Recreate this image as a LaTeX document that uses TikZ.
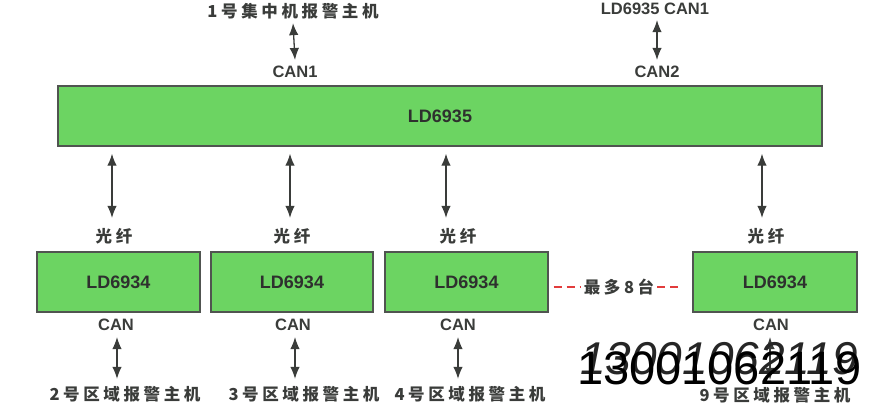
\documentclass[tikz,border=0pt]{standalone}
\usepackage{fontspec}
\setmainfont{Liberation Sans}
\newfontfamily\cjk[LetterSpace=22]{Noto Sans CJK SC}
\newfontfamily\wmfont{Liberation Sans}
\usetikzlibrary{arrows.meta}
\definecolor{boxgreen}{RGB}{108,212,98}
\definecolor{boxline}{RGB}{80,84,80}
\definecolor{txt}{RGB}{58,60,58}
\definecolor{dashred}{RGB}{226,60,60}
\tikzset{
  box/.style={draw=boxline, line width=1.4pt, fill=boxgreen, inner sep=0pt,
    font=\fontsize{18}{20}\selectfont\bfseries, text=txt!80!black},
  lat/.style={inner sep=0pt, font=\fontsize{16.5}{18}\selectfont\bfseries, text=txt},
  zh/.style={inner sep=0pt, font=\fontsize{16.5}{18}\cjk\bfseries, text=txt},
  arr/.style={{Latex[length=12pt,width=9.5pt]}-{Latex[length=12pt,width=9.5pt]}, line width=1.3pt, draw=txt},
  reddash/.style={draw=dashred, line width=1.3pt, dash pattern=on 8pt off 5pt}
}
\begin{document}
\begin{tikzpicture}[x=1pt,y=-1pt]
\useasboundingbox (0,0) rectangle (884,417);
% main unit
\node[box, minimum width=764pt, minimum height=60pt] (big) at (440,116) {LD6935};
% top
\node[zh] (top1) at (293,11) {1号集中机报警主机};
\node[lat] (can1) at (295,72) {CAN1};
\draw[arr] ([yshift=-4pt]top1.south) -- ([yshift=6pt]can1.north);
\node[lat] (top2) at (655,9) {LD6935 CAN1};
\node[lat] (can2) at (657,72) {CAN2};
\draw[arr] ([yshift=-5pt]top2.south -| can2) -- ([yshift=6pt]can2.north);
% sub units
\node[box, minimum width=163pt, minimum height=60pt] (b1) at (118.5,282) {LD6934};
\node[box, minimum width=162pt, minimum height=60pt] (b2) at (292,282) {LD6934};
\node[box, minimum width=163pt, minimum height=60pt] (b3) at (466.5,282) {LD6934};
\node[box, minimum width=164pt, minimum height=60pt] (b4) at (775,282) {LD6934};
% fibre labels
\node[zh] (f1) at (114,236) {光纤};
\node[zh] (f2) at (292,236) {光纤};
\node[zh] (f3) at (458,236) {光纤};
\node[zh] (f4) at (766,236) {光纤};
\draw[arr] ([xshift=-2pt,yshift=-7pt]big.south -| f1) -- ([xshift=-2pt,yshift=10pt]f1.north);
\draw[arr] ([xshift=-2pt,yshift=-7pt]big.south -| f2) -- ([xshift=-2pt,yshift=10pt]f2.north);
\draw[arr] ([xshift=-12pt,yshift=-7pt]big.south -| f3) -- ([xshift=-12pt,yshift=10pt]f3.north);
\draw[arr] ([xshift=-4pt,yshift=-7pt]big.south -| f4) -- ([xshift=-4pt,yshift=10pt]f4.north);
% CAN labels
\node[lat] (c1) at (116,325) {CAN};
\node[lat] (c2) at (293,325) {CAN};
\node[lat] (c3) at (458,325) {CAN};
\node[lat] (c4) at (771,325) {CAN};
% bottom labels
\node[zh] (h1) at (125,394) {2号区域报警主机};
\node[zh] (h2) at (304,394) {3号区域报警主机};
\node[zh] (h3) at (470,394) {4号区域报警主机};
\node[zh] (h4) at (775,395) {9号区域报警主机};
\draw[arr] ([xshift=1pt,yshift=-6pt]c1.south) -- ([xshift=1pt,yshift=7pt]c1.south |- h1.north);
\draw[arr] ([xshift=2pt,yshift=-6pt]c2.south) -- ([xshift=2pt,yshift=7pt]c2.south |- h2.north);
\draw[arr] ([yshift=-6pt]c3.south) -- ([yshift=7pt]c3.south |- h3.north);
\draw[arr] ([xshift=-1pt,yshift=-6pt]c4.south) -- ([xshift=-1pt,yshift=7pt]c4.south |- h4.north);
% max 8 units
\node[zh] (max) at (619,287) {最多8台};
\draw[reddash] ([xshift=5pt]b3.east |- max) -- ([xshift=-3pt]max.west);
\draw[reddash] ([xshift=3pt]max.east) -- ([xshift=-10pt]b4.west |- max);
% overlay number
\node[inner sep=0pt, anchor=base west, font=\fontsize{46}{48}\wmfont\itshape, text=black!85] (wm1) at (580,374) {13001062119};
\node[inner sep=0pt, anchor=base west, font=\fontsize{47}{49}\wmfont, text=black] (wm2) at (577,384) {13001062119};
\end{tikzpicture}
\end{document}
